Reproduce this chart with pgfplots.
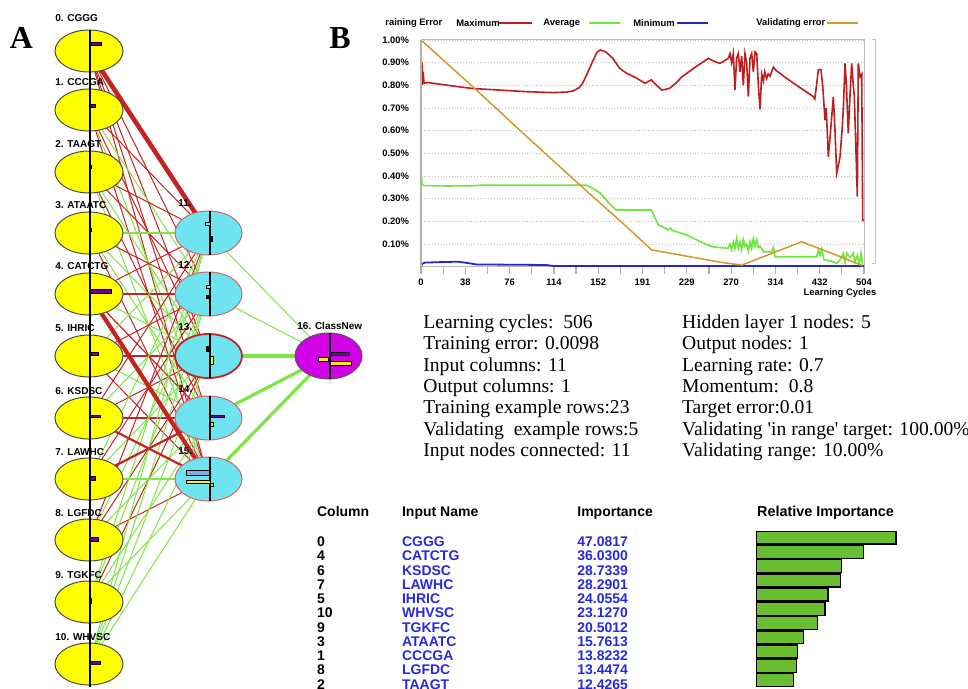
\documentclass[border=0pt]{standalone}
\usepackage{pgfplots}
\pgfplotsset{compat=1.18}
\usepackage{fontspec}
\setmainfont{Liberation Serif}
\setsansfont{Liberation Sans}
\definecolor{nodeyellow}{RGB}{255,255,0}
\definecolor{nodecyan}{RGB}{110,228,240}
\definecolor{nodemag}{RGB}{210,0,230}
\definecolor{conred}{RGB}{195,35,35}
\definecolor{congreen}{RGB}{125,230,70}
\definecolor{barpurple}{RGB}{110,0,170}
\definecolor{maxred}{RGB}{190,30,30}
\definecolor{avggreen}{RGB}{110,230,60}
\definecolor{minblue}{RGB}{40,40,200}
\definecolor{valorange}{RGB}{215,150,45}
\definecolor{impgreen}{RGB}{105,190,50}
\definecolor{impblue}{RGB}{40,40,220}
\definecolor{lblue}{RGB}{120,180,230}
\newcommand\conn[4]{\addplot[#3, line width=#4] coordinates {(89,#1) (208.5,#2)};}
\newcommand\inode[1]{\draw[fill=nodeyellow, draw=gray!60!black, line width=0.5pt] (axis cs:89,#1) ellipse [x radius=17pt, y radius=10.5pt];}
\newcommand\hnode[1]{\draw[fill=nodecyan, draw=conred!70, line width=0.5pt] (axis cs:208.5,#1) ellipse [x radius=16.75pt, y radius=11pt];}
\newcommand\bx[5]{\draw[fill=#5, draw=black, line width=0.3pt] (axis cs:#1,#2) rectangle (axis cs:#3,#4);}
\newcommand\labfont{\sffamily\bfseries\fontsize{5}{6}\selectfont}
\newcommand\chfont{\sffamily\bfseries\fontsize{4.7}{5.5}\selectfont}
\newcommand\tabfont{\sffamily\bfseries\fontsize{7}{8}\selectfont}
\begin{document}
\begin{tikzpicture}[x=0.5pt,y=-0.5pt]
\useasboundingbox (0,0) rectangle (968,689);
% ---------------- Panel A: network ----------------
\begin{axis}[at={(0pt,-344.5pt)}, anchor=south west, width=484pt, height=344.5pt,
  scale only axis, xmin=0, xmax=968, ymin=0, ymax=689, y dir=reverse,
  hide axis, clip=false, no markers]
% thin connections
\conn{51}{294}{conred}{0.5pt}\conn{51}{356}{conred}{0.5pt}\conn{51}{418}{conred}{0.5pt}\conn{51}{479}{conred}{0.5pt}
\conn{110}{233}{conred}{0.5pt}\conn{110}{294}{congreen}{0.5pt}\conn{110}{356}{conred}{0.5pt}\conn{110}{418}{congreen}{0.5pt}\conn{110}{479}{conred}{0.5pt}
\conn{172}{233}{conred}{0.5pt}\conn{172}{294}{conred}{0.5pt}\conn{172}{356}{congreen}{0.5pt}\conn{172}{418}{conred}{0.5pt}\conn{172}{479}{congreen}{0.5pt}
\conn{233}{233}{congreen}{0.8pt}\conn{233}{294}{conred}{0.5pt}\conn{233}{356}{congreen}{0.5pt}\conn{233}{418}{congreen}{0.5pt}\conn{233}{479}{conred}{0.5pt}
\conn{294}{233}{conred}{0.5pt}\conn{294}{294}{conred}{0.6pt}\conn{294}{356}{congreen}{0.5pt}\conn{294}{418}{conred}{0.6pt}
\conn{356}{233}{congreen}{0.5pt}\conn{356}{294}{conred}{0.5pt}\conn{356}{356}{conred}{0.6pt}\conn{356}{418}{congreen}{0.5pt}\conn{356}{479}{conred}{0.5pt}
\conn{418}{233}{conred}{0.5pt}\conn{418}{294}{congreen}{0.5pt}\conn{418}{356}{conred}{0.5pt}\conn{418}{418}{conred}{0.6pt}
\conn{479}{233}{congreen}{0.5pt}\conn{479}{294}{conred}{0.5pt}\conn{479}{356}{congreen}{0.5pt}
\conn{540}{233}{conred}{0.5pt}\conn{540}{294}{congreen}{0.5pt}\conn{540}{356}{conred}{0.5pt}\conn{540}{418}{congreen}{0.5pt}\conn{540}{479}{conred}{0.5pt}
\conn{602}{233}{congreen}{0.5pt}\conn{602}{294}{congreen}{0.5pt}\conn{602}{356}{conred}{0.5pt}\conn{602}{418}{congreen}{0.5pt}\conn{602}{479}{congreen}{0.5pt}
\conn{664}{233}{congreen}{0.5pt}\conn{664}{294}{congreen}{0.5pt}\conn{664}{356}{congreen}{0.5pt}\conn{664}{418}{congreen}{0.5pt}\conn{664}{479}{congreen}{0.5pt}
% thicker connections
\conn{418}{479}{conred}{1.1pt}
\conn{479}{418}{conred}{1.1pt}
\conn{479}{479}{congreen}{1.3pt}
\conn{51}{233}{conred}{2.3pt}
\conn{294}{479}{conred}{2.1pt}
% hidden -> output
\addplot[congreen, line width=0.5pt] coordinates {(208.5,233) (328.5,356)};
\addplot[congreen, line width=0.5pt] coordinates {(208.5,294) (328.5,356)};
\addplot[congreen, line width=1.6pt] coordinates {(208.5,356) (328.5,356)};
\addplot[congreen, line width=1.6pt] coordinates {(208.5,418) (328.5,356)};
\addplot[congreen, line width=1.6pt] coordinates {(208.5,479) (328.5,356)};
% input nodes
\inode{51}\inode{110}\inode{172}\inode{233}\inode{294}\inode{356}\inode{418}\inode{479}\inode{540}\inode{602}\inode{664}
\addplot[black, line width=0.9pt] coordinates {(90,30) (90,687)};
\bx{90}{42.7}{101.7}{45.7}{barpurple}
\bx{90}{104}{95}{107.3}{barpurple}
\bx{90}{165}{91.7}{168.3}{black}
\bx{90}{228}{91.7}{231.7}{black}
\bx{90}{289.3}{111.7}{293.3}{barpurple}
\bx{90}{352.7}{98.3}{355}{barpurple}
\bx{90}{415}{100}{417.3}{barpurple}
\bx{90}{476}{95}{480}{barpurple}
\bx{90}{537.3}{98.3}{541.7}{barpurple}
\bx{90}{598}{91.7}{603}{black}
\bx{90}{661.7}{100}{664}{barpurple}
% hidden nodes
\hnode{233}\hnode{294}
\draw[fill=nodecyan, draw=conred, line width=0.9pt] (axis cs:208.5,356) ellipse [x radius=16.75pt, y radius=11pt];
\hnode{418}\hnode{479}
\addplot[black, line width=0.6pt] coordinates {(210,211) (210,255)};
\addplot[black, line width=0.6pt] coordinates {(210,272) (210,316)};
\addplot[black, line width=0.6pt] coordinates {(210,334) (210,378)};
\addplot[black, line width=0.6pt] coordinates {(210,396) (210,440)};
\addplot[black, line width=0.6pt] coordinates {(210,457) (210,501)};
\bx{205}{222.7}{210}{225.7}{nodecyan}
\bx{210}{236.7}{212.3}{241.7}{black}
\bx{206.7}{285}{210}{288.3}{nodecyan}
\bx{206.7}{295}{210}{298.3}{black}
\bx{206.7}{346.7}{210}{351.7}{black}
\bx{210}{356.7}{213.3}{364}{yellow}
\bx{210}{415}{224}{417.3}{barpurple}
\bx{210}{422.7}{213.3}{426}{yellow}
\bx{186.7}{470.7}{209.3}{475}{lblue}
\bx{186.7}{480}{210}{483.3}{yellow}
\bx{210}{483.3}{213.3}{486.7}{yellow}
% output node
\draw[fill=nodemag, draw=gray!70!black, line width=0.5pt] (axis cs:328.5,356) ellipse [x radius=16.75pt, y radius=11.5pt];
\addplot[black, line width=0.6pt] coordinates {(330,333) (330,379)};
\bx{330}{352.7}{349.3}{355.3}{barpurple}
\bx{330}{361}{351.7}{365}{yellow}
\bx{318.3}{357.7}{328.3}{361}{yellow}
\end{axis}
% node labels
\foreach \t/\yy in {0. CGGG/22,1. CCCGA/86,2. TAAGT/148,3. ATAATC/209,4. CATCTG/270,5. IHRIC/332,6. KSDSC/394,7. LAWHC/455,8. LGFDC/516,9. TGKFC/578,10. WHVSC/640}
  \node[anchor=base west, inner sep=0pt, font=\labfont] at (55,\yy) {\t};
\foreach \t/\yy in {11./207,12./269,13./331,14./393,15./454}
  \node[anchor=base west, inner sep=0pt, font=\labfont] at (178,\yy) {\t};
\node[anchor=base west, inner sep=0pt, font=\labfont] at (297,329) {16. ClassNew};
\node[font=\bfseries\fontsize{16}{16}\selectfont, inner sep=0pt] at (21.5,38) {A};
\node[font=\bfseries\fontsize{16}{16}\selectfont, inner sep=0pt] at (340,38) {B};
% ---------------- Panel B: training chart ----------------
\begin{axis}[at={(210.5pt,-133.35pt)}, anchor=south west, width=221.5pt, height=113.35pt,
  scale only axis, xmin=0, xmax=504, ymin=0, ymax=1, no markers,
  axis line style={draw=gray!55, line width=0.5pt},
  ytick={0.1,0.2,0.3,0.4,0.5,0.6,0.7,0.8,0.9,1.0},
  yticklabels={0.10\%,0.20\%,0.30\%,0.40\%,0.50\%,0.60\%,0.70\%,0.80\%,0.90\%,1.00\%},
  ymajorgrids, grid style={densely dotted, gray!50, line width=0.4pt},
  ytick style={draw=none},
  yticklabel style={font=\chfont, xshift=1pt},
  xtick={0,50.4,100.8,151.2,201.6,252,302.4,352.8,403.2,453.6,504},
  xticklabels={0,38,76,114,152,191,229,270,314,432,504},
  xticklabel style={font=\chfont, yshift=1pt},
  minor x tick num=1, tick align=outside, xtick pos=left,
  major tick length=3.5pt, minor tick length=3.5pt,
  x tick style={draw=gray!60, line width=0.6pt},
  clip=false]
\addplot[maxred, line width=0.8pt] coordinates {(0,0.80) (0.4,0.934) (0.8,0.82) (1.2,0.90) (1.6,0.80) (2.4,0.86) (3.4,0.81) (8,0.812) (20,0.806) (40,0.795) (59,0.786) (90,0.779) (120,0.772) (150,0.768) (165,0.770) (173,0.775) (180,0.79) (184,0.81) (190,0.86) (196,0.912) (200,0.945) (204,0.956) (210,0.948) (218,0.92) (226,0.875) (234,0.853) (238,0.846) (246,0.83) (255,0.809) (259,0.818) (262,0.824) (268,0.80) (274,0.779) (278,0.782) (283,0.787) (290,0.81) (297,0.838) (312,0.88) (327,0.919) (334,0.905) (340,0.897) (346,0.91) (349.6,0.919) (351.5,0.94) (353.4,0.90) (355.3,0.94) (357.2,0.78) (359.1,0.92) (361,0.94) (362.9,0.86) (364.8,0.93) (366.7,0.80) (368.6,0.94) (370.5,0.90) (372.4,0.75) (374.3,0.92) (376.2,0.94) (378.1,0.86) (380,0.948) (381.9,0.94) (383.8,0.80) (385.7,0.694) (387.6,0.85) (389.5,0.82) (391,0.86) (393.3,0.83) (395,0.85) (397.1,0.84) (400.9,0.88) (404,0.865) (408.4,0.853) (416,0.83) (431.2,0.79) (446.4,0.75) (448,0.74) (450,0.80) (452,0.868) (455,0.87) (457,0.80) (459.6,0.647) (461,0.70) (463.4,0.485) (466,0.60) (469.1,0.75) (471,0.60) (472.9,0.412) (475,0.45) (476.7,0.485) (479,0.60) (480.5,0.70) (482.4,0.897) (484,0.80) (486.1,0.588) (488,0.75) (490,0.897) (491.8,0.80) (493,0.75) (496.4,0.309) (497.5,0.897) (499.4,0.838) (501.4,0.85) (502.5,0.206) (504,0.206)};
\addplot[avggreen, line width=0.8pt] coordinates {(0,0.42) (0.5,0.40) (1.2,0.365) (3,0.358) (30,0.356) (60,0.357) (70,0.36) (188,0.36) (196,0.345) (204,0.324) (214,0.28) (222,0.25) (262,0.25) (270,0.184) (278,0.17) (281,0.162) (284,0.17) (286,0.16) (302,0.14) (318,0.11) (331,0.088) (349.6,0.081) (351.5,0.10) (353.4,0.075) (355.3,0.11) (357.2,0.08) (359.1,0.125) (361,0.08) (362.9,0.11) (364.8,0.075) (366.7,0.12) (368.6,0.09) (370.5,0.10) (372.4,0.07) (374.3,0.11) (376.2,0.08) (378.1,0.125) (380,0.09) (381.9,0.12) (383.8,0.085) (385.7,0.09) (387.6,0.08) (389.5,0.066) (398.9,0.066) (400.9,0.085) (402.8,0.044) (450.2,0.044) (452.1,0.073) (454,0.05) (455.9,0.078) (458.6,0.03) (466,0.025) (473,0.015) (476.7,0.03) (480.5,0.059) (482.4,0.02) (484.3,0.06) (488.1,0.04) (491.8,0.06) (493.7,0.02) (496.4,0.05) (498.7,0.01) (500.6,0.06) (502.5,0.005)};
\addplot[minblue, line width=0.9pt] coordinates {(0,0.0) (1,0.012) (4.5,0.018) (20,0.02) (42,0.022) (50,0.018) (63,0.010) (143,0.0075) (150,0.003) (504,0.003)};
\addplot[valorange, line width=0.75pt] coordinates {(0,1.0) (60,0.79) (120,0.575) (178,0.37) (230,0.19) (262.4,0.074) (300,0.048) (340,0.02) (364.8,0.007) (400,0.06) (433,0.11) (470,0.055) (502.5,0.004)};
\draw[gray!60, line width=1.1pt] (axis cs:0,0) -- (axis cs:0,1);
\end{axis}
% legend of chart B
\node[anchor=west, inner sep=0pt, font=\chfont] at (385,23) {raining Error};
\node[anchor=west, inner sep=0pt, font=\chfont] at (456,23) {Maximum};
\draw[maxred, line width=0.8pt] (499,23) -- (532,23);
\node[anchor=west, inner sep=0pt, font=\chfont] at (543,23) {Average};
\draw[avggreen, line width=0.8pt] (589,23) -- (620,23);
\node[anchor=west, inner sep=0pt, font=\chfont] at (633,23) {Minimum};
\draw[minblue, line width=0.8pt] (677,23) -- (708,23);
\node[anchor=west, inner sep=0pt, font=\chfont] at (756,23) {Validating error};
\draw[valorange, line width=0.8pt] (827,23) -- (858,23);
\node[inner sep=0pt, font=\chfont] at (840,293) {Learning Cycles};
\draw[gray!50, line width=0.5pt] (872,40) -- (875,40) -- (875,264) -- (872,264);
% ---------------- text block ----------------
\foreach \t [count=\i from 0] in {Learning cycles:\ \ 506, Training error: 0.0098, Input columns: 11, Output columns: 1, Training example rows:23, Validating\ \ example rows:5, Input nodes connected: 11}
  \node[anchor=base west, inner sep=0pt, font=\fontsize{9.8}{12}\selectfont] at (423,{328.3+21.4*\i}) {\t};
\foreach \t [count=\i from 0] in {Hidden layer 1 nodes: 5, Output nodes: 1, Learning rate: 0.7, Momentum:\ \ 0.8, Target error:0.01, Validating \textquotesingle in range\textquotesingle\ target: 100.00\%, Validating range: 10.00\%}
  \node[anchor=base west, inner sep=0pt, font=\fontsize{9.8}{12}\selectfont] at (681.7,{328.3+21.4*\i}) {\t};
% ---------------- importance table ----------------
\node[anchor=base west, inner sep=0pt, font=\tabfont] at (316.7,516.7) {Column};
\node[anchor=base west, inner sep=0pt, font=\tabfont] at (401.7,516.7) {Input Name};
\node[anchor=base west, inner sep=0pt, font=\tabfont] at (577,516.7) {Importance};
\node[anchor=base west, inner sep=0pt, font=\tabfont\fontsize{7.2}{8}\selectfont] at (756.7,516.7) {Relative Importance};
\foreach \c/\n/\v [count=\i from 0] in {0/CGGG/47.0817, 4/CATCTG/36.0300, 6/KSDSC/28.7339, 7/LAWHC/28.2901, 5/IHRIC/24.0554, 10/WHVSC/23.1270, 9/TGKFC/20.5012, 3/ATAATC/15.7613, 1/CCCGA/13.8232, 8/LGFDC/13.4474, 2/TAAGT/12.4265}{
  \node[anchor=base west, inner sep=0pt, font=\tabfont] at (316.7,{546.7+14.23*\i}) {\c};
  \node[anchor=base west, inner sep=0pt, font=\tabfont, text=impblue] at (401.7,{546.7+14.23*\i}) {\n};
  \node[anchor=base west, inner sep=0pt, font=\tabfont, text=impblue] at (577,{546.7+14.23*\i}) {\v};
}
\begin{axis}[at={(378.35pt,-265.3pt)}, anchor=north west, width=69.7pt, height=78.27pt,
  scale only axis, xmin=0, xmax=47.0817, ymin=-0.5, ymax=10.5, y dir=reverse,
  hide axis, clip=false, xbar, bar width=6.4pt]
\addplot[fill=impgreen, draw=black, line width=0.7pt] coordinates {(47.0817,0) (36.0300,1) (28.7339,2) (28.2901,3) (24.0554,4) (23.1270,5) (20.5012,6) (15.7613,7) (13.8232,8) (13.4474,9) (12.4265,10)};
\end{axis}
\end{tikzpicture}
\end{document}
